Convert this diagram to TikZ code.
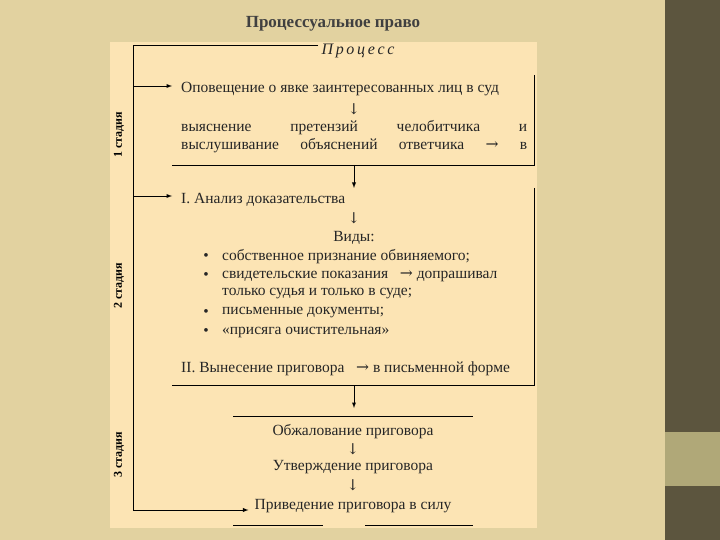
\documentclass[tikz,border=0pt]{standalone}
\usepackage{fontspec}
\setmainfont{Liberation Serif}
\newfontfamily\arrfont{DejaVu Serif}
\begin{document}
\begin{tikzpicture}[x=1pt,y=-1pt,
  ln/.style={line width=0.9pt,black},
  arr/.style={ln,-latex},
  txt/.style={font=\fontsize{15.5}{17}\selectfont,inner sep=0,text=black!85},
  dn/.style={font=\arrfont\fontsize{15}{17}\selectfont,inner sep=0,text=black!85},
  stage/.style={font=\fontsize{12}{13}\selectfont\bfseries,rotate=90,inner sep=0}]
\useasboundingbox (0,0) rectangle (720,540);
\fill[fill={rgb,255:red,226;green,210;blue,160}] (0,0) rectangle (720,540);
\fill[fill={rgb,255:red,92;green,85;blue,62}] (665,0) rectangle (720,540);
\fill[fill={rgb,255:red,176;green,168;blue,120}] (665,432) rectangle (720,486);
\fill[fill={rgb,255:red,252;green,228;blue,180}] (110,42) rectangle (537,528);
\node[font=\fontsize{17}{19}\selectfont\bfseries,text=black!75] (title) at (333,24) {Процессуальное право};
\node[txt,font=\fontsize{16}{18}\selectfont\itshape] (proc) at (358,51) {П\,р\,о\,ц\,е\,с\,с};
\coordinate (tl) at (133,45);
\coordinate (tr) at (318,45);
\coordinate (bl) at (133,510);
\draw[ln] (tr) -- (tl) -- (bl);
\node[txt,anchor=west] (a1) at (181,89) {Оповещение о явке заинтересованных лиц в суд};
\node[dn] (d1) at (354,109) {↓};
\node[txt,anchor=west] (a2) at (181,128) {\hbox to 346pt{выяснение\hfill претензий\hfill челобитчика\hfill и}};
\node[txt,anchor=west] (a3) at (181,146) {\hbox to 346pt{выслушивание\hfill объяснений\hfill ответчика\hfill {\arrfont →}\hfill в}};
\coordinate (s1) at (133,86); \coordinate (e1) at (172,86);
\draw[arr] (s1) -- (e1);
\coordinate (b1a) at (534,75); \coordinate (b1b) at (534,165); \coordinate (b1c) at (172,165);
\draw[ln] (b1a) -- (b1b) -- (b1c);
\coordinate (m1) at (354,165); \coordinate (m1e) at (354,188);
\draw[arr] (m1) -- (m1e);
\coordinate (s2) at (133,196); \coordinate (e2) at (172,196);
\draw[arr] (s2) -- (e2);
\node[txt,anchor=west] (c1) at (181,200) {I. Анализ доказательства};
\node[dn] (d2) at (354,218) {↓};
\node[txt] (vid) at (354,238) {Виды:};
\foreach \y/\t [count=\i] in {257/собственное признание обвиняемого;,276/свидетельские показания \ \ {\arrfont →} допрашивал,294/только судья и только в суде;,313/письменные документы;,332/«присяга очистительная»}{
  \node[txt,anchor=west] (v\i) at (222,\y) {\t};
}
\foreach \y [count=\i] in {257,276,313,332}{
  \node[txt] (bu\i) at (206,\y) {•};
}
\node[txt,anchor=west] (c2) at (181,369) {II. Вынесение приговора \ \ {\arrfont →} в письменной форме};
\coordinate (b2a) at (534,188); \coordinate (b2b) at (534,385); \coordinate (b2c) at (172,385);
\draw[ln] (b2a) -- (b2b) -- (b2c);
\coordinate (m2) at (354,385); \coordinate (m2e) at (354,408);
\draw[arr] (m2) -- (m2e);
\coordinate (l1a) at (233,416); \coordinate (l1b) at (473,416);
\draw[ln] (l1a) -- (l1b);
\node[txt] (f1) at (353,432) {Обжалование приговора};
\node[dn] (d3) at (353,449) {↓};
\node[txt] (f2) at (353,467) {Утверждение приговора};
\node[dn] (d4) at (353,485) {↓};
\node[txt] (f3) at (353,506) {Приведение приговора в силу};
\draw[arr] (bl) -- ([xshift=-6pt]f3.west |- bl);
\coordinate (l2a) at (233,525); \coordinate (l2b) at (323,525);
\coordinate (l3a) at (365,525); \coordinate (l3b) at (473,525);
\draw[ln] (l2a) -- (l2b); \draw[ln] (l3a) -- (l3b);
\node[stage] (st1) at (119,135) {1 стадия};
\node[stage] (st2) at (119,286) {2 стадия};
\node[stage] (st3) at (119,455) {3 стадия};
\end{tikzpicture}
\end{document}
